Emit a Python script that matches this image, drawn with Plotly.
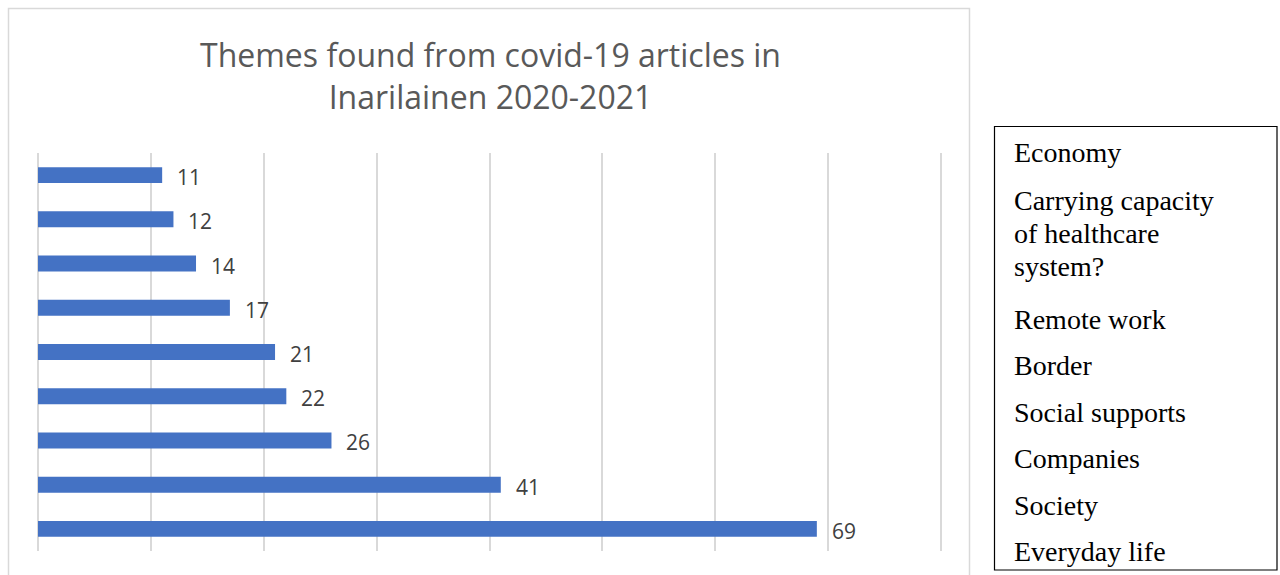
import plotly.graph_objects as go

W, H = 1280, 575

# Data (bars from top to bottom)
bar_ids = ["b1", "b2", "b3", "b4", "b5", "b6", "b7", "b8", "b9"]
values = [11, 12, 14, 17, 21, 22, 26, 41, 69]
title_lines = ["Themes found from covid-19 articles in", "Inarilainen 2020-2021"]
box_labels = ["Economy", "Carrying capacity\nof healthcare\nsystem?", "Remote work",
              "Border", "Social supports", "Companies", "Society", "Everyday life"]
x_ticks = [0, 10, 20, 30, 40, 50, 60, 70, 80]

def px(x):
    return x / W

def py(y):
    return (H - y) / H

fig = go.Figure()
fig.add_trace(go.Bar(
    x=values, y=bar_ids, orientation="h",
    marker=dict(color="#4472c4", line=dict(width=0)),
    hoverinfo="x",
))

annotations = []
for v, b in zip(values, bar_ids):
    annotations.append(dict(x=v, y=b, xref="x", yref="y", text=str(v), showarrow=False,
                            xanchor="left", yanchor="middle", xshift=13, yshift=-2,
                            font=dict(family="Open Sans", size=21, color="#404040")))

# Title
annotations.append(dict(x=px(490), y=py(75), xref="paper", yref="paper",
                        text="<br>".join(title_lines), showarrow=False,
                        xanchor="center", yanchor="middle", align="center",
                        font=dict(family="Open Sans", size=32, color="#595959")))

# Text box labels
para_tops = [153, 200, 319, 365, 412, 458, 505, 551]
for lab, t in zip(box_labels, para_tops):
    for i, ln in enumerate(lab.split("\n")):
        annotations.append(dict(x=px(1012), y=py(t + 33 * i), xref="paper", yref="paper",
                                text=ln, showarrow=False, xanchor="left", yanchor="middle",
                                align="left",
                                font=dict(family="Liberation Serif", size=28, color="#000000")))

shapes = [
    dict(type="rect", xref="paper", yref="paper", x0=px(8.5), x1=px(969.5), y0=py(600), y1=py(8.5),
         line=dict(color="#d9d9d9", width=1.5), fillcolor="rgba(0,0,0,0)", layer="below"),
    dict(type="rect", xref="paper", yref="paper", x0=px(994.5), x1=px(1277), y0=py(570), y1=py(126.5),
         line=dict(color="#000000", width=1.2), fillcolor="rgba(0,0,0,0)"),
]

unit = (941 - 38) / 80.0
pad = 0.1
fig.update_layout(
    width=W, height=H,
    margin=dict(l=0, r=0, t=0, b=0),
    paper_bgcolor="white", plot_bgcolor="white",
    showlegend=False,
    bargap=0.64,
    xaxis=dict(domain=[px(38 - pad * unit), px(941 + pad * unit)], range=[-pad, 80 + pad],
               tickvals=x_ticks, showticklabels=False,
               showgrid=True, gridcolor="#d9d9d9", gridwidth=1.5,
               zeroline=True, zerolinecolor="#d9d9d9", zerolinewidth=1.5, showline=False,
               fixedrange=True),
    yaxis=dict(domain=[py(551), py(153)], categoryorder="array", categoryarray=bar_ids,
               autorange="reversed", showticklabels=False, showgrid=False, zeroline=False,
               showline=False, fixedrange=True),
    annotations=annotations,
    shapes=shapes,
)

fig.write_html("out.html", config={"displayModeBar": False},
               post_script="document.body.style.margin='0px';")
